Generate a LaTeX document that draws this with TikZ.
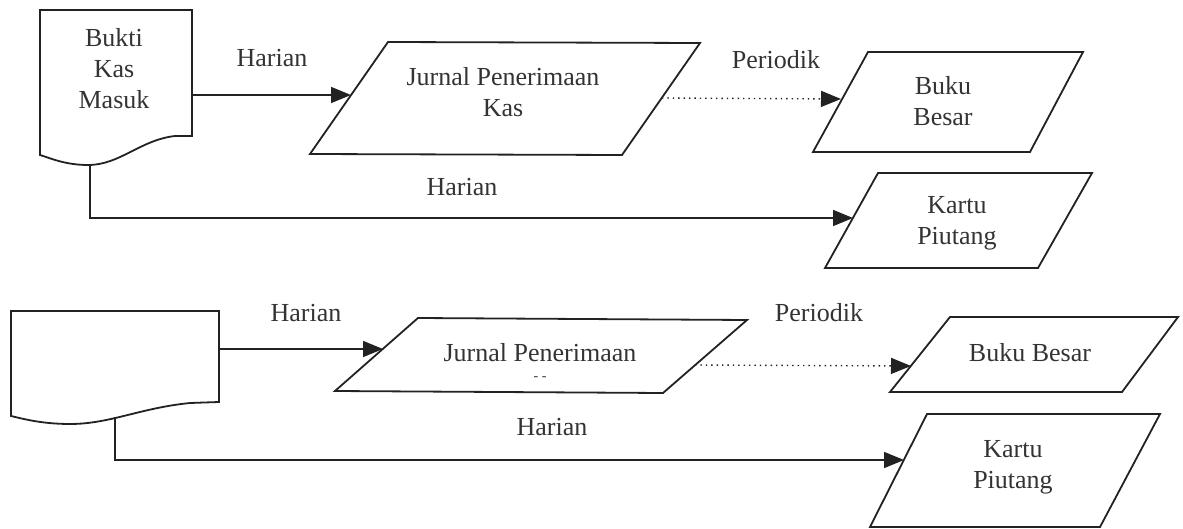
\documentclass[tikz,border=0pt]{standalone}
\usepackage{fontspec}
\setmainfont{Liberation Serif}
\usetikzlibrary{arrows.meta}
\definecolor{ink}{HTML}{222222}
\definecolor{txt}{HTML}{333333}
\tikzset{
  shapeline/.style={draw=ink, line width=0.9pt, line join=miter},
  lbl/.style={text=txt, font=\fontsize{13}{15.5}\selectfont, align=center, inner sep=0pt},
  flow/.style={draw=ink, line width=0.8pt, -{Triangle[length=10pt,width=8pt]}},
  dotflow/.style={draw=ink, line width=0.7pt, dotted, -{Triangle[length=10pt,width=8pt]}},
}
\begin{document}
\begin{tikzpicture}[x=0.5pt,y=-0.5pt]
\useasboundingbox (0,0) rectangle (1183,529);
% ---------- top row ----------
\draw[shapeline] (40,10) -- (192,10) -- (192,136) -- (175,136)
  .. controls (140,140) and (120,165) .. (88,165)
  .. controls (65,165) and (50,158) .. (40,155) -- cycle;
\node[lbl] (doc1) at (114,69) {Bukti\\Kas\\Masuk};
\coordinate (doc1r) at (192,95);
\coordinate (doc1b) at (90,164);

\draw[shapeline] (310,154) -- (388,42) -- (700,43) -- (622,155) -- cycle;
\node[lbl] (j1) at (503,92) {Jurnal Penerimaan\\Kas};
\coordinate (j1l) at (351,95);
\coordinate (j1r) at (662,98);

\draw[shapeline] (813,152) -- (868,52) -- (1083,52) -- (1030,152) -- cycle;
\node[lbl] (b1) at (943,101) {Buku\\Besar};
\coordinate (b1l) at (841,99);

\draw[shapeline] (825,268) -- (878,173) -- (1092,173) -- (1038,268) -- cycle;
\node[lbl] (k1) at (957,223) {Kartu\\Piutang};
\coordinate (k1l) at (853,218);

\draw[flow] (doc1r) -- (j1l);
\draw[dotflow] (j1r) -- (b1l);
\draw[flow] (doc1b) |- (k1l);
\node[lbl] (h1) at (272,58) {Harian};
\node[lbl] (p1) at (776,60) {Periodik};
\node[lbl] (h2) at (462,187) {Harian};

% ---------- bottom row ----------
\draw[shapeline] (11,311) -- (219,311) -- (219,402) -- (190,403)
  .. controls (140,408) and (110,424) .. (70,424)
  .. controls (40,424) and (20,418) .. (11,416) -- cycle;
\coordinate (doc2r) at (219,349);
\coordinate (doc2b) at (115,417);

\draw[shapeline] (335,391) -- (418,318) -- (747,320) -- (663,393) -- cycle;
\node[lbl] (j2) at (540,353) {Jurnal Penerimaan};
\node[lbl, font=\fontsize{7}{8}\selectfont] (j2k) at (540,379) {- -};
\coordinate (j2l) at (383,349);
\coordinate (j2r) at (695,365);

\draw[shapeline] (890,392) -- (950,317) -- (1178,317) -- (1122,392) -- cycle;
\node[lbl] (b2) at (1030,353) {Buku Besar};
\coordinate (b2l) at (911,366);

\draw[shapeline] (870,527) -- (927,414) -- (1160,414) -- (1100,527) -- cycle;
\node[lbl] (k2) at (1013,467) {Kartu\\Piutang};
\coordinate (k2l) at (904,460);

\draw[flow] (doc2r) -- (j2l);
\draw[dotflow] (j2r) -- (b2l);
\draw[flow] (doc2b) |- (k2l);
\node[lbl] (h3) at (306,313) {Harian};
\node[lbl] (p2) at (819,313) {Periodik};
\node[lbl] (h4) at (552,427) {Harian};
\end{tikzpicture}
\end{document}
